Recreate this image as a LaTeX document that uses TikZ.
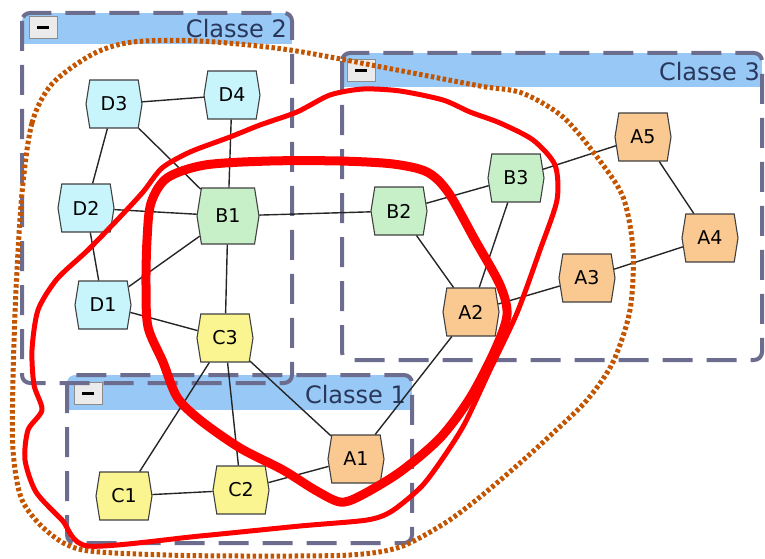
\documentclass[tikz,border=0pt]{standalone}
\usepackage{fontspec}
\setmainfont{DejaVu Sans}
\usetikzlibrary{shapes.symbols}
\usepackage{xcolor}

\definecolor{hdrblue}{RGB}{152,200,246}
\definecolor{framecol}{RGB}{108,108,142}
\definecolor{titlecol}{RGB}{40,55,90}
\definecolor{dfill}{RGB}{200,245,252}
\definecolor{bfill}{RGB}{200,240,200}
\definecolor{cfill}{RGB}{250,245,145}
\definecolor{afill}{RGB}{250,200,145}
\definecolor{dotbrown}{RGB}{195,85,0}

\begin{document}
\begin{tikzpicture}[
    x=1pt, y=-1pt,
    hex/.style={shape=signal, signal to=east and west, signal pointer angle=162, draw=black!75, line width=1.1pt,
                minimum width=56pt, minimum height=48pt, inner sep=0pt, font=\fontsize{19}{19}\selectfont},
    dnode/.style={hex, fill=dfill},
    bnode/.style={hex, fill=bfill},
    cnode/.style={hex, fill=cfill},
    anode/.style={hex, fill=afill},
    edge/.style={draw=black!85, line width=1.4pt},
    frame/.style={draw=framecol, line width=4pt, dash pattern=on 30pt off 14pt, rounded corners=8pt},
    ttl/.style={anchor=east, text=titlecol, inner sep=0pt, font=\fontsize{24}{24}\selectfont},
    btn/.style={draw=black!45, fill=black!8, line width=1pt, minimum width=28pt, minimum height=22pt, inner sep=0pt},
    thickred/.style={draw=red, line width=9pt, line join=round},
    midred/.style={draw=red, line width=5pt, line join=round},
    dotline/.style={draw=dotbrown, line width=5pt, dash pattern=on 3.5pt off 2.5pt},
]
\useasboundingbox (0,0) rectangle (765,559);

% ---- Classe 3 ----
\begin{scope}
  \clip[rounded corners=8pt] (342,53) rectangle (762,360);
  \fill[hdrblue] (342,53) rectangle (762,87);
\end{scope}
\draw[frame] (342,53) rectangle (762,360);
\node[btn] (m3) at (361,71) {\rule{12pt}{3pt}};
\node[ttl] (t3) at (760,72) {Classe 3};

% ---- Classe 1 ----
\begin{scope}
  \clip[rounded corners=8pt] (67,375) rectangle (412,543);
  \fill[hdrblue] (67,375) rectangle (412,410);
\end{scope}
\draw[frame] (67,375) rectangle (412,543);
\node[btn] (m1) at (88,393) {\rule{12pt}{3pt}};
\node[ttl] (t1) at (406,395) {Classe 1};

% ---- Classe 2 ----
\begin{scope}
  \clip[rounded corners=8pt] (22,13) rectangle (292,383);
  \fill[hdrblue] (22,13) rectangle (292,44);
\end{scope}
\draw[frame] (22,13) rectangle (292,383);
\node[btn] (m2) at (43,28) {\rule{12pt}{3pt}};
\node[ttl] (t2) at (287,29) {Classe 2};

% ---- Sommets ----
\node[dnode] (d3) at (114,104) {D3};
\node[dnode] (d4) at (232,95) {D4};
\node[dnode] (d2) at (86,208) {D2};
\node[dnode] (d1) at (103,305) {D1};
\node[bnode, minimum width=62pt, minimum height=56pt] (b1) at (228,216) {B1};
\node[bnode] (b2) at (399,211) {B2};
\node[bnode] (b3) at (516,178) {B3};
\node[cnode] (c3) at (225,338) {C3};
\node[cnode] (c1) at (124,496) {C1};
\node[cnode] (c2) at (241,490) {C2};
\node[anode] (a1) at (356,459) {A1};
\node[anode] (a2) at (471,312) {A2};
\node[anode] (a3) at (587,278) {A3};
\node[anode] (a4) at (710,238) {A4};
\node[anode] (a5) at (643,137) {A5};

% ---- Aretes ----
\draw[edge] (d3) -- (d4);  \draw[edge] (d3) -- (d2);  \draw[edge] (d3) -- (b1);
\draw[edge] (d4) -- (b1);  \draw[edge] (d2) -- (b1);  \draw[edge] (d2) -- (d1);
\draw[edge] (d1) -- (b1);  \draw[edge] (d1) -- (c3);  \draw[edge] (b1) -- (c3);
\draw[edge] (b1) -- (b2);  \draw[edge] (b2) -- (b3);  \draw[edge] (b2) -- (a2);
\draw[edge] (b3) -- (a2);  \draw[edge] (b3) -- (a5);  \draw[edge] (a5) -- (a4);
\draw[edge] (a4) -- (a3);  \draw[edge] (a3) -- (a2);  \draw[edge] (a2) -- (a1);
\draw[edge] (c3) -- (a1);  \draw[edge] (c3) -- (c1);  \draw[edge] (c3) -- (c2);
\draw[edge] (c1) -- (c2);  \draw[edge] (c2) -- (a1);

% ---- Contours ----
\draw[dotline] plot[smooth cycle, tension=0.5] coordinates {
  (22,193) (32,123) (52,84) (93,54) (133,42) (200,41) (290,50) (397,70) (480,86) (522,93)
  (563,117) (597,157) (623,197) (633,250) (630,310) (613,362) (587,400) (553,433) (520,463)
  (480,497) (445,523) (400,547) (350,555) (250,556) (167,555) (83,550) (48,532) (22,500)
  (13,450) (13,380) (16,290)};

\draw[midred] plot[smooth cycle, tension=0.45] coordinates {
  (88,546) (200,536) (300,526) (367,520) (392,511) (422,486) (445,455) (465,423) (490,370)
  (517,313) (540,250) (557,200) (555,165) (533,140) (500,123) (470,112) (443,100) (400,91)
  (363,89) (330,95) (297,112) (260,125) (230,137) (190,152) (162,168) (143,192) (120,217)
  (88,250) (57,279) (38,310) (32,350) (34,385) (42,410) (28,430) (25,460) (36,492) (62,520)};

\draw[thickred] plot[smooth cycle, tension=0.5] coordinates {
  (147,240) (151,203) (167,178) (205,165) (270,161) (340,161) (393,164) (427,172) (448,192)
  (475,240) (500,285) (507,315) (495,350) (470,398) (440,438) (400,472) (360,496) (340,502)
  (315,490) (283,470) (240,448) (200,420) (177,397) (163,362) (148,327) (146,285)};

\end{tikzpicture}
\end{document}
